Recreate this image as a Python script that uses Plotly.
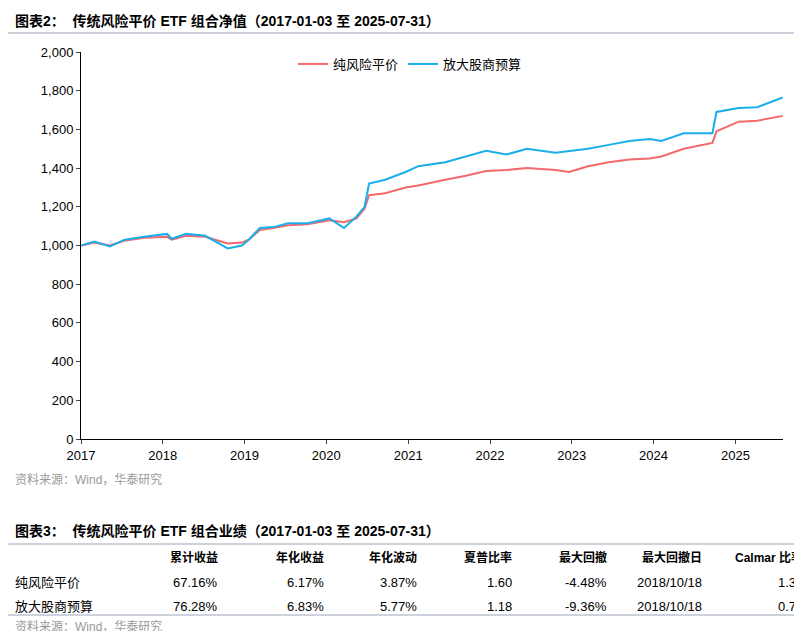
import plotly.graph_objects as go

dates = ["2017-01-03","2017-03-01","2017-05-10","2017-07-15","2017-10-10","2018-01-20","2018-02-10","2018-04-15","2018-07-10","2018-10-18","2018-12-20","2019-01-20","2019-03-10","2019-05-10","2019-07-15","2019-10-10","2020-01-15","2020-03-20","2020-05-15","2020-06-20","2020-07-10","2020-09-20","2020-12-20","2021-02-15","2021-06-15","2021-09-15","2021-12-15","2022-03-15","2022-06-15","2022-10-20","2022-12-20","2023-03-15","2023-06-15","2023-09-15","2023-12-15","2024-02-05","2024-05-15","2024-08-15","2024-09-20","2024-10-08","2025-01-15","2025-04-08","2025-07-31"]
pure_rp = [1000,1015,1000,1025,1040,1045,1030,1050,1045,1010,1015,1030,1080,1090,1105,1110,1130,1120,1140,1190,1260,1270,1300,1310,1340,1360,1385,1390,1400,1390,1380,1410,1430,1445,1450,1460,1500,1520,1530,1590,1640,1645,1670]
amp_eq = [1000,1020,995,1030,1045,1060,1035,1060,1050,985,1000,1030,1090,1095,1115,1115,1140,1090,1150,1200,1320,1340,1380,1410,1430,1460,1490,1470,1500,1480,1490,1500,1520,1540,1550,1540,1580,1580,1580,1690,1710,1715,1765]
series_names = ["纯风险平价","放大股商预算"]
tbl_headers = ["累计收益","年化收益","年化波动","夏普比率","最大回撤","最大回撤日","Calmar 比率"]
tbl_rows = [["67.16%","6.17%","3.87%","1.60","-4.48%","2018/10/18","1.38"],
            ["76.28%","6.83%","5.77%","1.18","-9.36%","2018/10/18","0.73"]]
yticks = list(range(0, 2001, 200))
W, H = 802, 631
F = "Liberation Sans, Noto Sans CJK SC"

fig = go.Figure()
fig.add_trace(go.Scatter(x=dates, y=pure_rp, name=series_names[0], mode="lines", line=dict(color="#F4696B", width=2)))
fig.add_trace(go.Scatter(x=dates, y=amp_eq, name=series_names[1], mode="lines", line=dict(color="#1AAEEB", width=2)))

def px(x): return x / W
def py(y): return 1 - y / H

ann = []
def t(x, y, s, anchor="left", size=13, color="#000", bold=False):
    ann.append(dict(x=px(x), y=py(y), xref="paper", yref="paper", text=f"<b>{s}</b>" if bold else s,
                    showarrow=False, xanchor=anchor, yanchor="middle", font=dict(size=size, color=color, family=F)))
t(5, 13, "图表2：  传统风险平价 ETF 组合净值（2017-01-03 至 2025-07-31）", size=14, bold=True)
t(5, 472, "资料来源：Wind，华泰研究", color="#999", size=12)
t(5, 523, "图表3：  传统风险平价 ETF 组合业绩（2017-01-03 至 2025-07-31）", size=14, bold=True)
colx = [212, 318, 411, 506, 601, 696, 797]
for cx, h in zip(colx, tbl_headers):
    t(cx, 549, h, anchor="right", bold=True, size=12)
for ry, name, row in zip([574, 598], series_names, tbl_rows):
    t(5, ry, name)
    for cx, v in zip(colx, row):
        t(cx, ry, v, anchor="right")
t(5, 618, "资料来源：Wind，华泰研究", color="#999", size=12)

line = dict(color="#9AA5BA", width=1)
shapes = [dict(type="line", xref="paper", yref="paper", x0=0, x1=1, y0=py(y), y1=py(y), line=line) for y in [25, 536, 607]]

fig.update_layout(
    width=W, height=H, margin=dict(l=0, r=0, t=0, b=0, autoexpand=False),
    plot_bgcolor="white", paper_bgcolor="white",
    font=dict(family=F, size=13, color="#000"),
    xaxis=dict(domain=[px(73), px(775)], range=["2017-01-01", "2025-08-01"], dtick="M12", tickformat="%Y",
               showline=True, linecolor="#000", ticks="outside", ticklen=4, showgrid=False, automargin=False),
    yaxis=dict(domain=[py(431), py(44)], range=[0, 2000], tickvals=yticks, tickformat=",", showline=True,
               linecolor="#000", ticks="outside", ticklen=4, showgrid=False, automargin=False),
    legend=dict(orientation="h", x=px(285), y=py(56), xanchor="left", yanchor="middle", font=dict(size=13)),
    annotations=ann, shapes=shapes,
)
fig.write_html("out.html")
